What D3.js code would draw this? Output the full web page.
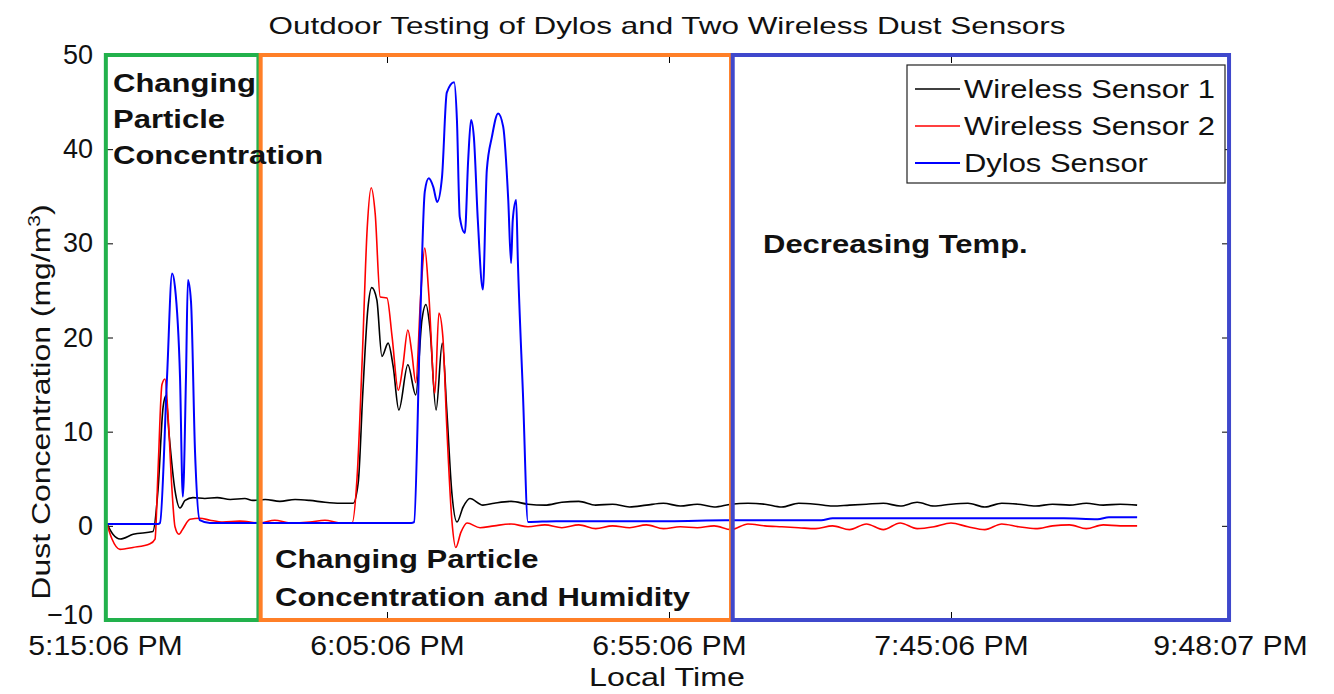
<!DOCTYPE html>
<html>
<head>
<meta charset="utf-8">
<script src="https://cdn.jsdelivr.net/npm/d3@7"></script>
<style>
  html, body { margin: 0; padding: 0; background: #fff; }
  svg { display: block; }
  text { font-family: "Liberation Sans", Arial, Helvetica, sans-serif; }
</style>
</head>
<body>
<svg id="chart" width="1334" height="694"></svg>
<script>
// ---------------- DATA (minutes after 5:15:06 PM, mg/m^3) ----------------
const sensor1Time = [0.35,1.4,2.7,5.0,8.5,9.4,10.3,10.8,11.35,12.4,13.3,14.2,15.6,17.7,19.9,22.2,24.8,26.2,28.4,31.0,33.7,36.3,39.0,41.7,44.0,44.9,45.7,46.6,47.3,48.2,49.1,50.2,51.1,52.1,53.7,55.1,56.2,56.9,57.6,58.7,59.8,60.6,61.5,62.4,63.5,64.7,67.0,
  69,72,75,78,81,84,87,90,93,96,99,102,105,108,111,114,117,120,123,126,129,132,135,138,141,144,147,150,153,156,159,162,165,168,171,174,177,180,183];
const sensor1Values = [0.2,-0.9,-1.4,-0.9,-0.6,3.8,12.6,13.8,9.8,3.8,1.9,2.7,3.0,2.9,3.0,2.8,2.9,2.7,2.8,2.6,2.8,2.7,2.5,2.4,2.4,4.6,14,23,25.3,24,18,19.4,16.9,12.3,17.1,13.9,21.9,23.5,21.1,12.3,19.4,12.3,3.5,0.4,2.0,2.9,2.2,
  2.4,2.6,2.3,2.2,2.5,2.6,2.2,2.3,2.0,2.2,2.4,2.1,2.3,2.0,2.3,2.4,2.3,2.0,2.4,2.3,2.1,2.2,2.3,2.4,2.1,2.5,2.1,2.3,2.4,2.0,2.4,2.3,2.1,2.3,2.2,2.4,2.2,2.3,2.2];

const sensor2Time = [0.35,1.24,2.66,4.96,7.98,8.87,9.4,10.1,10.64,11.17,11.88,12.41,13.12,13.83,15.07,16.84,18.6,20.9,23.9,27.5,30.1,32.8,36.3,39.0,41.7,43.8,44.7,45.6,46.5,47.2,47.9,48.8,50.0,50.9,52.0,52.8,53.7,54.4,55.1,56.0,56.7,57.4,58.5,59.2,59.9,60.6,61.5,62.2,63.1,64.2,66.5,
  69,72,75,78,81,84,87,90,93,96,99,102,105,108,111,114,117,120,123,126,129,132,135,138,141,144,147,150,153,156,159,162,165,168,171,174,177,180,183];
const sensor2Values = [0.2,-1.4,-2.5,-2.3,-1.9,-1.4,5.8,15,15.6,11.8,3.8,-0.1,-0.9,-0.3,0.7,0.8,0.6,0.4,0.5,0.3,0.6,0.3,0.4,0.6,0.3,0.3,5.2,17.6,31.7,35.9,33.2,24.3,24.2,20.1,14.4,16.9,20.8,18.4,15.2,24.7,29.5,24.7,14.1,22.6,20.1,10.5,0.6,-2.3,-0.7,0.3,-0.2,
  0.0,0.2,-0.1,0.1,-0.2,0.1,-0.3,0.0,-0.2,0.1,-0.3,-0.1,-0.2,0.0,-0.4,0.2,0.0,-0.1,-0.2,-0.3,0.0,-0.4,0.2,-0.4,0.3,-0.3,-0.1,0.3,-0.1,-0.4,0.2,-0.1,-0.3,0.0,0.1,-0.3,0.1,0.0,0.0];

const dylosTime = [0.35,9.4,9.75,11.0,11.9,12.4,13.3,13.8,14.36,14.7,15.25,15.96,16.8,18.6,30,45,54.3,54.8,55.85,56.7,57.4,58.2,58.9,59.75,60.6,61.9,62.4,62.9,63.8,64.4,64.9,65.4,66.1,67.0,67.7,68.6,69.7,70.6,71.5,72.0,72.3,72.9,73.2,74.1,75.0,
  80,90,100,110,120,127,129,140,150,160,170,176,178,183];
const dylosValues = [0.2,0.2,0.3,15.8,26.8,25.4,15.8,3.1,15.8,26.1,23.8,7.9,0.6,0.3,0.3,0.3,0.3,0.4,21,35.5,36.9,36,34.4,37,46,47.1,43.1,32.8,31.1,38.9,43.1,41.3,32.5,25.1,37.8,41.3,43.8,42.4,34.6,27.9,32.5,34.6,28.2,14.1,0.4,
  0.5,0.5,0.5,0.6,0.6,0.6,0.8,0.8,0.8,0.8,0.8,0.7,0.9,0.9];

const seriesNames = ["Wireless Sensor 1", "Wireless Sensor 2", "Dylos Sensor"];
const seriesColors = ["#000000", "#ff0000", "#0000ff"];

const xTickValues = [0, 50, 100, 150, 199.47];
const xTickLabels = ["5:15:06 PM", "6:05:06 PM", "6:55:06 PM", "7:45:06 PM", "9:48:07 PM"];
const yTickValues = [-10, 0, 10, 20, 30, 40, 50];

// regions (minutes)
const regionStart = [0.15, 27.6, 111.3];
const regionEnd   = [27.2, 111.0, 199.3];
const regionColors = ["#22b14c", "#ff7f27", "#3f48cc"];

// ---------------- CHART ----------------
const svg = d3.select("#chart");
const X0 = 105, X1 = 1230, Y0 = 620, Y1 = 55;
const x = d3.scaleLinear().domain([0, 199.47]).range([X0, X1]);
const y = d3.scaleLinear().domain([-10, 50]).range([Y0, Y1]);

// axes frame
svg.append("rect").attr("x", X0).attr("y", Y1).attr("width", X1 - X0).attr("height", Y0 - Y1)
  .attr("fill", "#fff").attr("stroke", "#000").attr("stroke-width", 1);

const tickLen = 8;
const xb = svg.append("g").attr("transform", `translate(0,${Y0})`)
  .call(d3.axisBottom(x).tickValues(xTickValues).tickSize(-tickLen).tickPadding(tickLen + 8)
    .tickFormat((d, i) => xTickLabels[i]));
const xt = svg.append("g").attr("transform", `translate(0,${Y1})`)
  .call(d3.axisTop(x).tickValues(xTickValues.slice(0, 4)).tickSize(-tickLen).tickFormat(""));
const yl = svg.append("g").attr("transform", `translate(${X0},0)`)
  .call(d3.axisLeft(y).tickValues(yTickValues).tickSize(-tickLen).tickPadding(tickLen + 4));
const yr = svg.append("g").attr("transform", `translate(${X1},0)`)
  .call(d3.axisRight(y).tickValues(yTickValues).tickSize(-tickLen).tickFormat(""));
[xb, xt, yl, yr].forEach(g => {
  g.select(".domain").remove();
  g.selectAll(".tick line").attr("stroke", "#000").attr("stroke-width", 1);
  g.selectAll("text").attr("fill", "#111").style("font-size", "27px")
    .style("font-family", '"Liberation Sans", Arial, sans-serif');
});
xb.selectAll(".tick text").attr("transform", "scale(1.12,1)");
// lowest y label sits slightly up so it does not collide with the first time label
yl.selectAll(".tick text").filter(d => d === -10).attr("dy", "0.12em");

// series
const line = d3.line().x(d => x(d[0])).y(d => y(d[1])).curve(d3.curveMonotoneX);
const seriesData = [
  d3.zip(sensor1Time, sensor1Values),
  d3.zip(sensor2Time, sensor2Values),
  d3.zip(dylosTime, dylosValues)
];
[0, 1, 2].forEach(i => {
  svg.append("path").datum(seriesData[i]).attr("d", line)
    .attr("fill", "none").attr("stroke", seriesColors[i])
    .attr("stroke-width", i === 2 ? 2 : 1.6).attr("stroke-linejoin", "round");
});

// region boxes
regionStart.forEach((s, i) => {
  svg.append("rect")
    .attr("x", x(s)).attr("y", y(50))
    .attr("width", x(regionEnd[i]) - x(s)).attr("height", y(-10) - y(50))
    .attr("fill", "none").attr("stroke", regionColors[i]).attr("stroke-width", 4);
});

// helper: text placed at (px,py), stretched horizontally by k
function stretchedText(t, px, py, k, size, opts = {}) {
  const el = svg.append("text")
    .attr("transform", `translate(${px},${py}) scale(${k},1)`)
    .attr("text-anchor", opts.anchor || "start")
    .style("font-size", size + "px").attr("fill", "#111").text(t);
  if (opts.bold) el.attr("font-weight", "bold");
  return el;
}

// annotations
const B = 1.24;
stretchedText("Changing", 113, 92, B, 25, {bold: true});
stretchedText("Particle", 113, 128, B, 25, {bold: true});
stretchedText("Concentration", 113, 164, B, 25, {bold: true});
stretchedText("Decreasing Temp.", 763, 253, B, 25, {bold: true});
stretchedText("Changing Particle", 275, 568, B, 25, {bold: true});
stretchedText("Concentration and Humidity", 275, 606, B, 25, {bold: true});

// legend
const LX = 907, LY = 65;
svg.append("rect").attr("x", LX).attr("y", LY).attr("width", 318).attr("height", 118)
  .attr("fill", "#fff").attr("stroke", "#222").attr("stroke-width", 1.2);
seriesNames.forEach((n, i) => {
  const cy = LY + 24 + i * 37;
  svg.append("line").attr("x1", LX + 8).attr("x2", LX + 53).attr("y1", cy).attr("y2", cy)
    .attr("stroke", seriesColors[i]).attr("stroke-width", i === 2 ? 2 : 1.3);
  stretchedText(n, LX + 57, cy + 9, 1.19, 26);
});

// title & axis labels
stretchedText("Outdoor Testing of Dylos and Two Wireless Dust Sensors", 667, 34, 1.31, 24, {anchor: "middle"});
stretchedText("Local Time", 667, 686, 1.24, 26, {anchor: "middle"});
const ylab = svg.append("text").attr("transform", "translate(50,402) rotate(-90) scale(1.23,1)").attr("text-anchor", "middle")
  .style("font-size", "26px").attr("fill", "#111");
ylab.append("tspan").text("Dust Concentration (mg/m");
ylab.append("tspan").attr("dy", -10).style("font-size", "17px").text("3");
ylab.append("tspan").attr("dy", 10).text(")");
</script>
</body>
</html>
